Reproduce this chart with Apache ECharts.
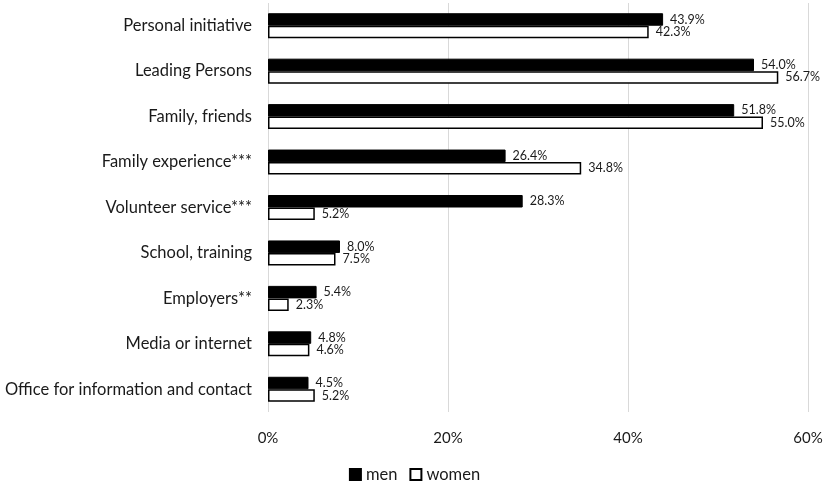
<!DOCTYPE html>
<html>
<head>
<meta charset="utf-8">
<script src="https://cdn.jsdelivr.net/npm/echarts@6/dist/echarts.min.js"></script>
<style>
html,body{margin:0;padding:0;background:#fff;}
#chart{width:829px;height:483px;}
</style>
</head>
<body>
<div id="chart"></div>
<script>
var categories = ["Personal initiative","Leading Persons","Family, friends","Family experience***","Volunteer service***","School, training","Employers**","Media or internet","Office for information and contact"];
var men = [43.9,54.0,51.8,26.4,28.3,8.0,5.4,4.8,4.5];
var women = [42.3,56.7,55.0,34.8,5.2,7.5,2.3,4.6,5.2];
var xTicks = [0,20,40,60];

var FONT = "Lato";
var chart = echarts.init(document.getElementById('chart'));
var lbl = {
  show:true, position:'right', distance:7,
  fontFamily:FONT, fontSize:12.5, color:'#1a1a1a',
  formatter:function(p){return p.value.toFixed(1)+'%';}
};
chart.setOption({
  animation:false,
  textStyle:{fontFamily:FONT},
  grid:{left:268,right:21,top:3,bottom:71,containLabel:false},
  legend:{
    top:461,left:'center',itemWidth:11,itemHeight:11,itemGap:12,
    textStyle:{fontFamily:FONT,fontSize:16.5,color:'#1a1a1a'},
    data:[{name:'men',icon:'rect'},{name:'women',icon:'rect'}]
  },
  xAxis:{
    type:'value',min:xTicks[0],max:xTicks[xTicks.length-1],interval:20,
    axisLine:{show:false},axisTick:{show:false},
    splitLine:{show:true,lineStyle:{color:'#d9d9d9',width:1}},
    axisLabel:{formatter:'{value}%',fontFamily:FONT,fontSize:15,color:'#1a1a1a',margin:19}
  },
  yAxis:{
    type:'category',data:categories,inverse:true,
    axisLine:{show:false},axisTick:{show:false},
    axisLabel:{fontFamily:FONT,fontSize:16.5,color:'#1a1a1a',margin:16}
  },
  series:[
    {name:'men',type:'bar',data:men,barWidth:12.5,barGap:'0%',
     itemStyle:{color:'#000',borderColor:'#000',borderWidth:1},label:lbl},
    {name:'women',type:'bar',data:women,barWidth:12.5,barGap:'0%',
     itemStyle:{color:'#fff',borderColor:'#000',borderWidth:1.5},label:lbl}
  ]
});
</script>
</body>
</html>
